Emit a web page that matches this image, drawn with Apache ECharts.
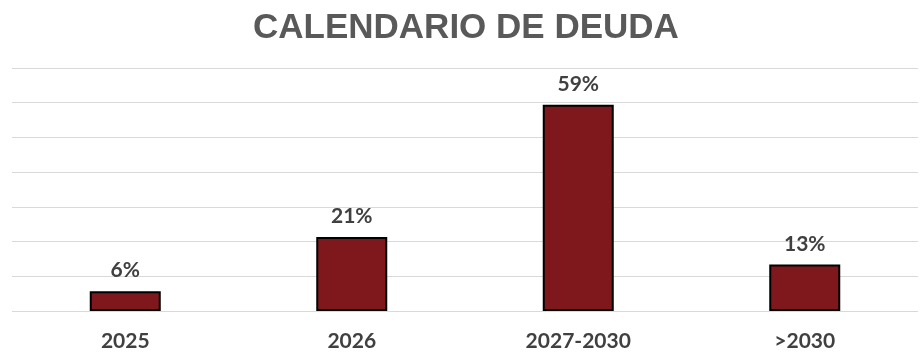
<!DOCTYPE html>
<html><head><meta charset="utf-8">
<script src="https://cdn.jsdelivr.net/npm/echarts@6/dist/echarts.min.js"></script>
<style>html,body{margin:0;padding:0;background:#fff}#c{width:920px;height:363px}</style>
</head><body><div id="c"></div>
<script>
const title = 'CALENDARIO DE DEUDA';
const categories = ['2025', '2026', '2027-2030', '>2030'];
const values = [5.7, 21.3, 59.4, 13.4];
const yMax = 70;
const yStep = 10;

const chart = echarts.init(document.getElementById('c'), null, {renderer: 'canvas'});
chart.setOption({
  animation: false,
  backgroundColor: '#ffffff',
  title: {
    text: title, left: 248, top: 6,
    textStyle: {fontFamily: 'Liberation Sans', fontWeight: 'bold', fontSize: 35, color: '#595959'}
  },
  grid: {left: 12, right: 2, top: 68, bottom: 52, containLabel: false},
  xAxis: {
    type: 'category', data: categories,
    axisLine: {show: false}, axisTick: {show: false},
    axisLabel: {margin: 20, fontFamily: 'Lato', fontWeight: 'bold', fontSize: 21, color: '#404040'}
  },
  yAxis: {
    type: 'value', min: 0, max: yMax, interval: yStep,
    axisLabel: {show: false}, axisLine: {show: false}, axisTick: {show: false},
    splitLine: {lineStyle: {color: '#d9d9d9', width: 1}}
  },
  series: [{
    type: 'bar', data: values, barWidth: 71,
    itemStyle: {color: '#7f181d', borderColor: '#000000', borderWidth: 2},
    label: {
      show: true, position: 'top', distance: 10,
      formatter: p => Math.round(p.value) + '%',
      fontFamily: 'Lato', fontWeight: 'bold', fontSize: 21, color: '#404040'
    }
  }]
});
</script></body></html>
